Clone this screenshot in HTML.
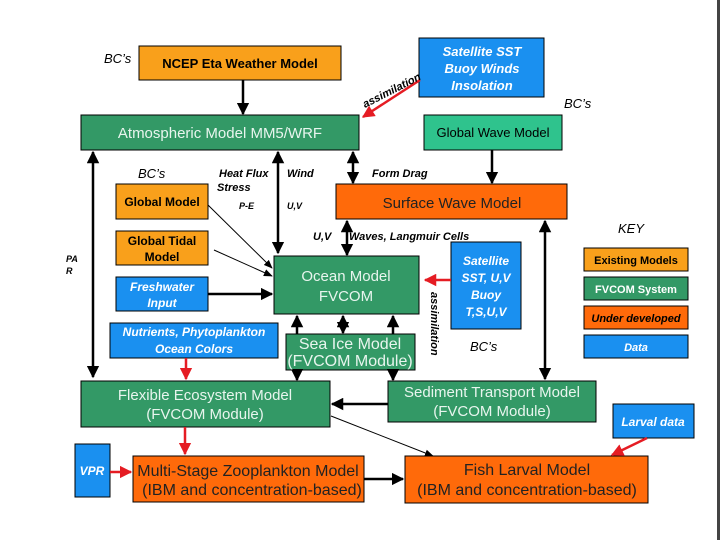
<!DOCTYPE html>
<html><head><meta charset="utf-8"><style>
body{margin:0;background:#fff}
svg{display:block}
text{font-family:"Liberation Sans",sans-serif}
.s{font-family:"Liberation Serif",serif}
</style></head><body>
<svg width="720" height="540" viewBox="0 0 720 540" xmlns="http://www.w3.org/2000/svg">
<defs>
<marker id="a" viewBox="0 0 10 10" refX="9" refY="5" markerWidth="5" markerHeight="5" orient="auto-start-reverse"><path d="M0,0L10,5L0,10z" fill="#000"/></marker>
<marker id="t" viewBox="0 0 10 10" refX="9" refY="5" markerWidth="9" markerHeight="9" orient="auto"><path d="M0,1L10,5L0,9z" fill="#000"/></marker>
<marker id="r" viewBox="0 0 10 10" refX="9" refY="5" markerWidth="5" markerHeight="5" orient="auto"><path d="M0,0L10,5L0,10z" fill="#e51c23"/></marker>
</defs>
<rect x="717" y="0" width="3" height="540" fill="#444"/>
<g stroke="#000" stroke-width="1">
<rect x="139" y="46" width="202" height="34" fill="#f9a01b"/>
<rect x="419" y="38" width="125" height="59" fill="#1a90f0"/>
<rect x="81" y="115" width="278" height="35" fill="#339966"/>
<rect x="424" y="115" width="138" height="35" fill="#2fc38d"/>
<rect x="336" y="184" width="231" height="35" fill="#ff6a0a"/>
<rect x="116" y="184" width="92" height="35" fill="#f9a01b"/>
<rect x="116" y="231" width="92" height="34" fill="#f9a01b"/>
<rect x="116" y="277" width="92" height="34" fill="#1a90f0"/>
<rect x="274" y="256" width="145" height="58" fill="#339966"/>
<rect x="451" y="242" width="70" height="87" fill="#1a90f0"/>
<rect x="110" y="323" width="168" height="35" fill="#1a90f0"/>
<rect x="286" y="334" width="129" height="36" fill="#339966"/>
<rect x="81" y="381" width="249" height="46" fill="#339966"/>
<rect x="388" y="381" width="208" height="41" fill="#339966"/>
<rect x="613" y="404" width="81" height="34" fill="#1a90f0"/>
<rect x="75" y="444" width="35" height="53" fill="#1a90f0"/>
<rect x="133" y="456" width="231" height="46" fill="#ff6a0a"/>
<rect x="405" y="456" width="243" height="47" fill="#ff6a0a"/>
<rect x="584" y="248" width="104" height="23" fill="#f9a01b"/>
<rect x="584" y="277" width="104" height="23" fill="#339966"/>
<rect x="584" y="306" width="104" height="23" fill="#ff6a0a"/>
<rect x="584" y="335" width="104" height="23" fill="#1a90f0"/>
</g>
<g stroke="#000" stroke-width="2.5" fill="none">
<line x1="243" y1="80" x2="243" y2="114" marker-end="url(#a)"/>
<line x1="93" y1="152" x2="93" y2="377" marker-start="url(#a)" marker-end="url(#a)"/>
<line x1="278" y1="152" x2="278" y2="253" marker-start="url(#a)" marker-end="url(#a)"/>
<line x1="353" y1="152" x2="353" y2="183" marker-start="url(#a)" marker-end="url(#a)"/>
<line x1="492" y1="150" x2="492" y2="183" marker-end="url(#a)"/>
<line x1="347" y1="221" x2="347" y2="255" marker-start="url(#a)" marker-end="url(#a)"/>
<line x1="545" y1="221" x2="545" y2="379" marker-start="url(#a)" marker-end="url(#a)"/>
<line x1="208" y1="294" x2="272" y2="294" marker-end="url(#a)"/>
<line x1="297" y1="334" x2="297" y2="316" marker-end="url(#a)"/>
<line x1="343" y1="316" x2="343" y2="333" marker-start="url(#a)" marker-end="url(#a)"/>
<line x1="393" y1="334" x2="393" y2="316" marker-end="url(#a)"/>
<line x1="297" y1="370" x2="297" y2="380" marker-end="url(#a)"/>
<line x1="393" y1="370" x2="393" y2="380" marker-end="url(#a)"/>
<line x1="388" y1="404" x2="332" y2="404" marker-end="url(#a)"/>
<line x1="364" y1="479" x2="403" y2="479" marker-end="url(#a)"/>
</g>
<g stroke="#000" stroke-width="1" fill="none">
<line x1="208" y1="205" x2="272" y2="268" marker-end="url(#t)"/>
<line x1="214" y1="250" x2="272" y2="276" marker-end="url(#t)"/>
<line x1="331" y1="416" x2="433" y2="456" marker-end="url(#t)"/>
</g>
<g stroke="#e51c23" stroke-width="2.5" fill="none">
<line x1="420" y1="80" x2="363" y2="117" marker-end="url(#r)"/>
<line x1="451" y1="280" x2="425" y2="280" marker-end="url(#r)"/>
<line x1="186" y1="358" x2="186" y2="379" marker-end="url(#r)"/>
<line x1="185" y1="427" x2="185" y2="454" marker-end="url(#r)"/>
<line x1="110" y1="472" x2="131" y2="472" marker-end="url(#r)"/>
<line x1="647" y1="438" x2="612" y2="455" marker-end="url(#r)"/>
</g>
<g font-size="13" font-weight="bold" text-anchor="middle">
<text x="240" y="68">NCEP Eta Weather Model</text>
<g fill="#fff" font-style="italic"><text x="482" y="56">Satellite SST</text><text x="482" y="73">Buoy Winds</text><text x="482" y="90">Insolation</text></g>
</g>
<g font-size="15" text-anchor="middle">
<text x="220" y="138" fill="#e8f5ee">Atmospheric Model MM5/WRF</text>
<text x="452" y="208" fill="#222">Surface Wave Model</text>
<text x="346" y="281" fill="#e8f5ee">Ocean Model</text>
<text x="346" y="301" fill="#e8f5ee">FVCOM</text>
<text x="205" y="400" fill="#e8f5ee">Flexible Ecosystem Model</text>
<text x="205" y="419" fill="#e8f5ee">(FVCOM Module)</text>
<text x="492" y="397" fill="#e8f5ee">Sediment Transport Model</text>
<text x="492" y="416" fill="#e8f5ee">(FVCOM Module)</text>
</g>
<text x="493" y="137" font-size="13" text-anchor="middle">Global Wave Model</text>
<g font-size="12" font-weight="bold" text-anchor="middle">
<text x="162" y="206">Global Model</text>
<text x="162" y="245">Global Tidal</text><text x="162" y="261">Model</text>
<g fill="#fff" font-style="italic">
<text x="162" y="291">Freshwater</text><text x="162" y="307">Input</text>
<text x="194" y="336">Nutrients, Phytoplankton</text><text x="194" y="353">Ocean Colors</text>
<text x="486" y="265">Satellite</text><text x="486" y="282">SST, U,V</text><text x="486" y="299">Buoy</text><text x="486" y="316">T,S,U,V</text>
<text x="653" y="426">Larval data</text>
<text x="92" y="475">VPR</text>
</g>
</g>
<g font-size="11" font-weight="bold" text-anchor="middle">
<text x="636" y="264">Existing Models</text>
<text x="636" y="293" fill="#fff">FVCOM System</text>
<text x="636" y="322" font-style="italic">Under developed</text>
<text x="636" y="351" fill="#fff" font-style="italic">Data</text>
</g>
<g class="s" font-size="16" text-anchor="middle">
<text x="350" y="349" fill="#e8f5ee">Sea Ice Model</text>
<text x="350" y="366" fill="#e8f5ee">(FVCOM Module)</text>
<text x="248" y="476" fill="#222">Multi-Stage Zooplankton Model</text>
<text x="252" y="495" fill="#222">(IBM and concentration-based)</text>
<text x="527" y="475" fill="#222">Fish Larval Model</text>
<text x="527" y="495" fill="#222">(IBM and concentration-based)</text>
</g>
<g font-size="13" font-style="italic">
<text x="104" y="63">BC’s</text>
<text x="138" y="178">BC’s</text>
<text x="564" y="108">BC’s</text>
<text x="470" y="351">BC’s</text>
<text x="618" y="233">KEY</text>
</g>
<g font-size="11" font-weight="bold" font-style="italic">
<text x="219" y="177">Heat Flux</text>
<text x="217" y="191">Stress</text>
<text x="287" y="177">Wind</text>
<text x="372" y="177">Form Drag</text>
<text x="239" y="209" font-size="9">P-E</text>
<text x="287" y="209" font-size="9">U,V</text>
<text x="313" y="240">U,V</text>
<text x="349" y="240">Waves, Langmuir Cells</text>
<text x="66" y="262" font-size="9">PA</text>
<text x="66" y="274" font-size="9">R</text>
</g>
<g class="s" font-size="11" font-weight="bold" font-style="italic">
<text transform="translate(365,108) rotate(-27)">assimilation</text>
<text transform="translate(431,292) rotate(90)">assimilation</text>
</g>
</svg>
</body></html>
